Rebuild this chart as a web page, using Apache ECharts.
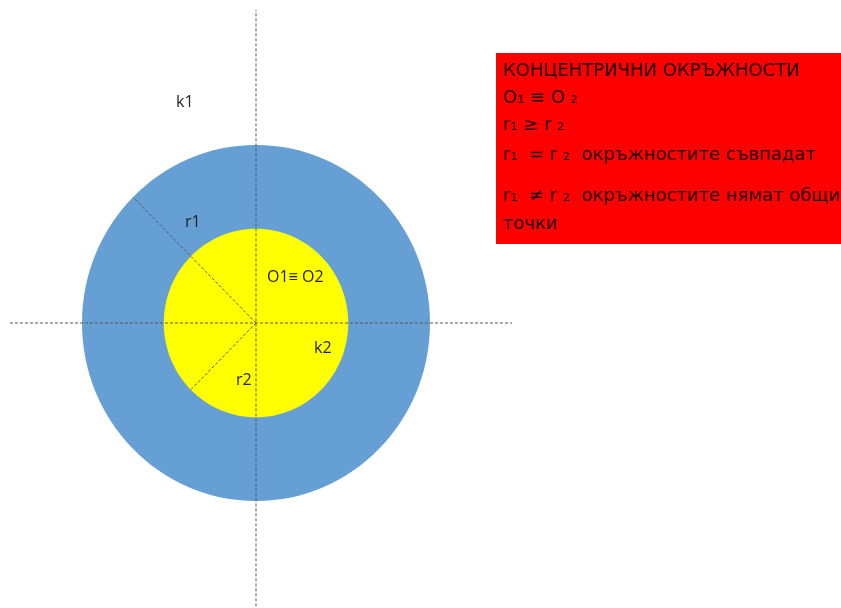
<!DOCTYPE html>
<html><head><meta charset="utf-8">
<script src="https://cdn.jsdelivr.net/npm/echarts@6/dist/echarts.min.js"></script>
<style>html,body{margin:0;padding:0;background:#fff}#c{width:841px;height:608px}</style>
</head><body><div id="c"></div>
<script>
// data
const circleNames = ['k1', 'k2'];
const circleRadii = [1.0, 0.53];
const centerPoint = [0, 0];
const radiusNames = ['r1', 'r2'];
const radiusAngles = [135, 225];
const horizontalAxisSpan = [-1.414, 1.471];
const verticalAxisSpan = [-1.62, 1.758];
const textLines = [
  'КОНЦЕНТРИЧНИ ОКРЪЖНОСТИ',
  'O₁ ≡ O ₂',
  'r₁ ≥ r ₂',
  'r₁  = r ₂  окръжностите съвпадат',
  'r₁  ≠ r ₂  окръжностите нямат общи',
  'точки'
];

const chart = echarts.init(document.getElementById('c'));
const circleColors = ['#659fd4', '#ffff00'];
const ff = '"Open Sans", "Liberation Sans", Arial, sans-serif';
const boxFont = '"DejaVu Sans", "Open Sans", sans-serif';

const radiusLines = radiusAngles.map((a, i) => {
  const r = circleRadii[i];
  const t = a * Math.PI / 180;
  return [centerPoint, [centerPoint[0] + r * Math.cos(t), centerPoint[1] + r * Math.sin(t)]];
});

const dashStyle = { color: '#555', width: 1, type: [3, 2] };

const series = [
  {
    type: 'custom', silent: true, z: 1,
    data: circleRadii.map((r, i) => [centerPoint[0], centerPoint[1], r, i]),
    renderItem: function (params, api) {
      const c = api.coord([api.value(0), api.value(1)]);
      const s = api.size([api.value(2), api.value(2)]);
      return {
        type: 'ellipse',
        shape: { cx: c[0], cy: c[1], rx: s[0], ry: s[1] },
        style: { fill: circleColors[api.value(3)] }
      };
    }
  },
  {
    type: 'line', symbol: 'none', z: 5, silent: true,
    data: [[horizontalAxisSpan[0], centerPoint[1]], [horizontalAxisSpan[1], centerPoint[1]]],
    lineStyle: dashStyle
  },
  {
    type: 'line', symbol: 'none', z: 5, silent: true,
    data: [[centerPoint[0], verticalAxisSpan[0]], [centerPoint[0], verticalAxisSpan[1]]],
    lineStyle: dashStyle
  }
].concat(radiusLines.map(seg => ({
  type: 'line', symbol: 'none', z: 5, silent: true, data: seg, lineStyle: dashStyle
})));

const labelStyle = { fill: '#222', font: '16px ' + ff };
const lineYs = [73, 100, 127, 157, 198, 226];

chart.setOption({
  animation: false,
  grid: { left: 0, top: 0, width: 841, height: 608, show: false },
  xAxis: { type: 'value', min: -256 / 174, max: 585 / 174, show: false },
  yAxis: { type: 'value', min: -285 / 178, max: 323 / 178, show: false },
  series: series,
  graphic: [
    { type: 'text', left: 176, top: 94, z: 10, style: Object.assign({ text: circleNames[0] }, labelStyle) },
    { type: 'text', left: 185, top: 214, z: 10, style: Object.assign({ text: radiusNames[0] }, labelStyle) },
    { type: 'text', left: 267, top: 269, z: 10, style: Object.assign({ text: 'O1≡ O2' }, labelStyle) },
    { type: 'text', left: 314, top: 340, z: 10, style: Object.assign({ text: circleNames[1] }, labelStyle) },
    { type: 'text', left: 236, top: 372, z: 10, style: Object.assign({ text: radiusNames[1] }, labelStyle) },
    { type: 'rect', left: 496, top: 53, z: 10, shape: { width: 345, height: 191 }, style: { fill: '#ff0000' } }
  ].concat(textLines.map((t, i) => ({
    type: 'text', left: 503, top: lineYs[i] - 11, z: 11,
    style: { text: t, fill: '#1a0000', font: '18px ' + boxFont }
  })))
});
</script></body></html>
